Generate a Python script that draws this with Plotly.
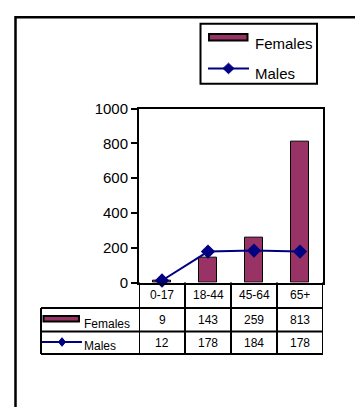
import plotly.graph_objects as go

categories = ["0-17", "18-44", "45-64", "65+"]
females = [9, 143, 259, 813]
males = [12, 178, 184, 178]
series_names = ["Females", "Males"]
y_ticks = [0, 200, 400, 600, 800, 1000]

W, H = 355, 407
BAR_COLOR = "#993366"
LINE_COLOR = "#000080"
FONT = "Arial, Liberation Sans, sans-serif"


def px(x):
    return x / W


def py(y):
    return 1 - y / H


def diamond(cx, cy, rx, ry):
    return (f"M {px(cx)} {py(cy - ry)} L {px(cx + rx)} {py(cy)} "
            f"L {px(cx)} {py(cy + ry)} L {px(cx - rx)} {py(cy)} Z")


fig = go.Figure()
fig.add_trace(go.Bar(x=categories, y=females, name=series_names[0],
                     marker=dict(color=BAR_COLOR, line=dict(color="black", width=1)),
                     width=0.39, showlegend=False))
fig.add_trace(go.Scatter(x=categories, y=males, name=series_names[1], mode="lines+markers",
                         line=dict(color=LINE_COLOR, width=2),
                         marker=dict(symbol="diamond", size=11, color=LINE_COLOR),
                         showlegend=False, cliponaxis=False))

plot_l, plot_r, plot_t, plot_b = 139, 323, 104, 285.5
rows_y = [312, 336.5, 360]

shapes = []
annotations = []
# outer frame
shapes.append(dict(type="rect", xref="paper", yref="paper", x0=px(15.5), x1=1.2,
                   y0=-0.2, y1=py(8.5), line=dict(color="black", width=2.5)))
# legend box
shapes.append(dict(type="rect", xref="paper", yref="paper", x0=px(200.5), x1=px(317),
                   y0=py(78), y1=py(15.5), line=dict(color="black", width=2)))
shapes.append(dict(type="rect", xref="paper", yref="paper", x0=px(209), x1=px(247.5),
                   y0=py(33), y1=py(26), fillcolor=BAR_COLOR, line=dict(color="black", width=2)))
shapes.append(dict(type="line", xref="paper", yref="paper", x0=px(208), x1=px(249),
                   y0=py(62), y1=py(62), line=dict(color=LINE_COLOR, width=2)))
shapes.append(dict(type="path", xref="paper", yref="paper", path=diamond(228.5, 62, 5.5, 5.5),
                   fillcolor=LINE_COLOR, line=dict(color=LINE_COLOR, width=1)))
annotations.append(dict(text=series_names[0], xref="paper", yref="paper", x=px(253), y=py(36),
                        xanchor="left", yanchor="middle", showarrow=False,
                        font=dict(size=15, family=FONT, color="black")))
annotations.append(dict(text=series_names[1], xref="paper", yref="paper", x=px(253), y=py(67),
                        xanchor="left", yanchor="middle", showarrow=False,
                        font=dict(size=15, family=FONT, color="black")))

# data table grid
tbl_l = 41
for yy in rows_y:
    shapes.append(dict(type="line", xref="paper", yref="paper", x0=px(tbl_l), x1=px(plot_r),
                       y0=py(yy), y1=py(yy), line=dict(color="black", width=2)))
shapes.append(dict(type="line", xref="paper", yref="paper", x0=px(tbl_l), x1=px(tbl_l),
                   y0=py(rows_y[0]), y1=py(rows_y[-1]), line=dict(color="black", width=2)))
for i in range(len(categories) + 1):
    shapes.append(dict(type="line", xref="x", yref="paper", x0=i - 0.5, x1=i - 0.5,
                       y0=py(plot_b), y1=py(rows_y[-1]), line=dict(color="black", width=2)))

# table keys
shapes.append(dict(type="rect", xref="paper", yref="paper", x0=px(43.5), x1=px(79),
                   y0=py(326), y1=py(320.5), fillcolor=BAR_COLOR, line=dict(color="black", width=2)))
shapes.append(dict(type="line", xref="paper", yref="paper", x0=px(42), x1=px(82),
                   y0=py(347.5), y1=py(347.5), line=dict(color=LINE_COLOR, width=2)))
shapes.append(dict(type="path", xref="paper", yref="paper", path=diamond(62, 347.5, 3.5, 4.5),
                   fillcolor=LINE_COLOR, line=dict(color=LINE_COLOR, width=1)))
annotations.append(dict(text=series_names[0], xref="paper", yref="paper", x=px(82), y=py(329),
                        xanchor="left", yanchor="middle", showarrow=False,
                        font=dict(size=12, family=FONT, color="black")))
annotations.append(dict(text=series_names[1], xref="paper", yref="paper", x=px(82), y=py(352),
                        xanchor="left", yanchor="middle", showarrow=False,
                        font=dict(size=12, family=FONT, color="black")))

row_centers = [(rows_y[0] + rows_y[1]) / 2, (rows_y[1] + rows_y[2]) / 2]
for vals, yc in zip([females, males], row_centers):
    for c, v in zip(categories, vals):
        annotations.append(dict(text=str(v), xref="x", yref="paper", x=c, y=py(yc),
                                xanchor="center", yanchor="middle", showarrow=False,
                                font=dict(size=12, family=FONT, color="black")))
for c in categories:
    annotations.append(dict(text=c, xref="x", yref="paper", x=c, y=py((plot_b + rows_y[0]) / 2),
                            xanchor="center", yanchor="middle", showarrow=False,
                            font=dict(size=12, family=FONT, color="black")))

fig.update_layout(
    width=W, height=H,
    margin=dict(l=0, r=0, t=0, b=0),
    paper_bgcolor="white", plot_bgcolor="white",
    font=dict(family=FONT, color="black"),
    bargap=0,
    xaxis=dict(domain=[px(plot_l), px(plot_r)], type="category", range=[-0.5, 3.5],
               showticklabels=False, ticks="", showgrid=False, zeroline=False,
               showline=True, linecolor="black", linewidth=2, mirror=True),
    yaxis=dict(domain=[py(plot_b), py(plot_t)], range=[0, 1000], tickvals=y_ticks,
               ticks="outside", ticklen=6, tickwidth=2, tickcolor="black",
               showgrid=False, zeroline=False, showline=True, linecolor="black",
               linewidth=2, mirror=True, tickfont=dict(size=15, family=FONT, color="black")),
    shapes=shapes,
    annotations=annotations,
    showlegend=False,
)

fig.write_html("out.html", config={"displayModeBar": False},
               post_script="document.body.style.margin='0';document.body.style.overflow='hidden';")
